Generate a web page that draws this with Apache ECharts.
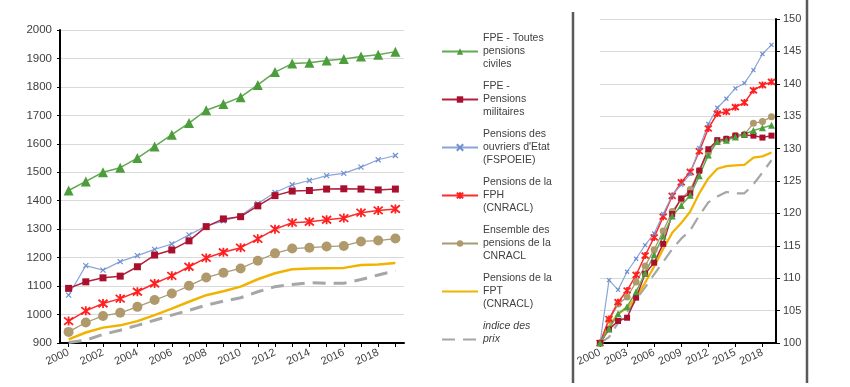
<!DOCTYPE html>
<html><head><meta charset="utf-8">
<script src="https://cdn.jsdelivr.net/npm/echarts@6/dist/echarts.min.js"></script>
<style>html,body{margin:0;padding:0;background:#fff}#c{width:850px;height:387px}</style>
</head><body><div id="c"></div>
<script>
// ---- data ----
const years = ['2000','2001','2002','2003','2004','2005','2006','2007','2008','2009','2010','2011','2012','2013','2014','2015','2016','2017','2018','2019'];
// left panel: montants (euros)
const fpeCiviles   = [1436,1468,1500,1516,1550,1591,1632,1673,1718,1740,1764,1807,1852,1882,1885,1893,1898,1907,1913,1924];
const fpeMilitaires= [1092,1115,1129,1135,1168,1209,1227,1259,1309,1336,1344,1382,1418,1434,1436,1441,1442,1441,1438,1441];
const fspoeie      = [1068,1172,1156,1186,1207,1229,1248,1280,1311,1329,1347,1390,1429,1456,1471,1488,1496,1518,1544,1559];
const fph          = [977,1013,1039,1056,1080,1109,1136,1168,1199,1219,1235,1266,1300,1323,1326,1333,1339,1358,1366,1371];
const cnracl       = [939,972,995,1006,1027,1051,1074,1101,1130,1147,1162,1189,1215,1232,1235,1239,1241,1257,1260,1267];
const fpt          = [913,937,954,962,977,998,1021,1045,1068,1082,1098,1124,1145,1159,1162,1163,1164,1174,1176,1181];
const prix         = [902,910,930,945,962,980,998,1015,1033,1047,1059,1080,1098,1106,1112,1110,1110,1123,1139,1154];
// right panel: base 100 en 2000
const idxCiviles   = [100,102.2,104.5,105.6,107.9,110.8,113.6,116.5,119.6,121.2,122.8,125.8,129.0,131.1,131.3,131.8,132.2,132.8,133.2,133.6];
const idxMilitaires= [100,102.1,103.4,103.9,107.0,110.7,112.4,115.3,119.9,122.3,123.1,126.6,129.9,131.3,131.5,132.0,132.1,132.0,131.7,132.0];
const idxFspoeie   = [100,109.7,108.2,111.0,113.0,115.1,116.9,119.9,122.8,124.4,126.1,130.1,133.8,136.3,137.7,139.3,140.1,142.1,144.6,146.0];
const idxFph       = [100,103.7,106.3,108.1,110.5,113.5,116.3,119.5,122.7,124.8,126.4,129.6,133.1,135.4,135.7,136.4,137.1,139.0,139.8,140.3];
const idxCnracl    = [100,103.5,106.0,107.1,109.4,111.9,114.4,117.3,120.3,122.2,123.7,126.6,129.4,131.2,131.5,132.0,132.2,133.9,134.2,134.9];
const idxFpt       = [100,102.6,104.5,105.4,107.0,109.3,111.8,114.5,117.0,118.5,120.3,123.1,125.4,126.9,127.3,127.4,127.5,128.6,128.8,129.4];
const idxPrix      = [100,100.9,103.1,104.8,106.7,108.6,110.6,112.5,114.5,116.1,117.4,119.7,121.7,122.6,123.3,123.1,123.1,124.5,126.3,128.2];
const leftTicks = { min: 900, max: 2000, interval: 100 };
const rightTicks = { min: 100, max: 150, interval: 5 };

const names = {
  civ: 'FPE - Toutes\npensions\nciviles',
  mil: 'FPE -\nPensions\nmilitaires',
  ouv: "Pensions des\nouvriers d'Etat\n(FSPOEIE)",
  fph: 'Pensions de la\nFPH\n(CNRACL)',
  cnr: 'Ensemble des\npensions de la\nCNRACL',
  fpt: 'Pensions de la\nFPT\n(CNRACL)',
  prx: 'indice des\nprix'
};

const ASTER = 'path://M0,0L10,10M10,0L0,10M5,-1L5,11';
const XMARK = 'path://M0,0L10,10M10,0L0,10';

const styles = {
  civ: { color: '#4c9e3c', line: '#63a852', w: 1.5, symbol: 'triangle', s: 10, s2: 7 },
  mil: { color: '#a8102e', line: '#b3203e', w: 1.5, symbol: 'rect', s: 7, s2: 6 },
  ouv: { color: '#6f8fcf', line: '#8aa5da', w: 1.2, symbol: XMARK, s: 5, s2: 4, stroke: 1.2 },
  fph: { color: '#ff1f1f', line: '#ff2a2a', w: 1.5, symbol: ASTER, s: 9, s2: 7, stroke: 1.8 },
  cnr: { color: '#b09a6c', line: '#a89a78', w: 1.3, symbol: 'circle', s: 10, s2: 7 },
  fpt: { color: '#f0b400', line: '#f0b400', w: 2.5, symbol: 'none' },
  prx: { color: '#a6a6a6', line: '#a6a6a6', w: 3, symbol: 'none', dash: [13, 8] }
};

function mk(key, data, right) {
  const st = styles[key];
  return {
    name: names[key],
    type: 'line',
    data: right ? years.map((y, i) => [+y, data[i]]) : data,
    xAxisIndex: right ? 1 : 0,
    yAxisIndex: right ? 1 : 0,
    symbol: st.symbol,
    symbolSize: right ? st.s2 : st.s,
    showSymbol: st.symbol !== 'none',
    smooth: false,
    animation: false,
    lineStyle: { color: st.line, width: right ? Math.min(st.w, 2.2) : st.w, type: st.dash ? st.dash : 'solid', cap: 'butt' },
    itemStyle: { color: st.color, borderColor: st.color, borderWidth: st.stroke || 0 },
    emphasis: { disabled: true }
  };
}

const keys = ['civ', 'mil', 'ouv', 'fph', 'cnr', 'fpt', 'prx'];
const leftData = { civ: fpeCiviles, mil: fpeMilitaires, ouv: fspoeie, fph: fph, cnr: cnracl, fpt: fpt, prx: prix };
const rightData = { civ: idxCiviles, mil: idxMilitaires, ouv: idxFspoeie, fph: idxFph, cnr: idxCnracl, fpt: idxFpt, prx: idxPrix };

const series = [];
keys.slice().reverse().forEach(k => series.push(mk(k, leftData[k], false)));
keys.slice().reverse().forEach(k => series.push(mk(k, rightData[k], true)));

const FONT = 'Liberation Sans, Arial, sans-serif';
const chart = echarts.init(document.getElementById('c'), null, { renderer: 'canvas' });
chart.setOption({
  backgroundColor: '#ffffff',
  animation: false,
  textStyle: { fontFamily: FONT },
  legend: {
    orient: 'vertical',
    left: 441,
    top: 19,
    padding: 0,
    itemWidth: 36,
    itemHeight: 8,
    itemGap: -17,
    data: keys.map(k => {
      const d = { name: names[k] };
      if (k === 'prx') d.textStyle = { fontStyle: 'italic' };
      if (styles[k].symbol === 'none') d.itemStyle = { opacity: 0 };
      return d;
    }),
    formatter: n => n.split('\n').length < 3 ? n + '\n ' : n,
    textStyle: { fontSize: 10.5, lineHeight: 13, color: '#404040', fontFamily: FONT, padding: [26, 0, 0, 0] },
    selectedMode: false
  },
  grid: [
    { left: 60, top: 30, width: 344, height: 313, containLabel: false },
    { left: 600, top: 19, width: 176, height: 324, containLabel: false }
  ],
  xAxis: [
    {
      gridIndex: 0, type: 'category', data: years, boundaryGap: true,
      axisLine: { lineStyle: { color: '#000', width: 2 } },
      axisTick: { show: true, alignWithLabel: true, interval: 0, length: 4, lineStyle: { color: '#000' } },
      axisLabel: { interval: 1, rotate: 25, fontSize: 11, color: '#404040', margin: 9, fontFamily: FONT },
      splitLine: { show: false }
    },
    {
      gridIndex: 1, type: 'value', min: 2000, max: 2019.5, interval: 3,
      axisLine: { onZero: false, lineStyle: { color: '#000', width: 2 } },
      axisTick: { show: true, length: 4, lineStyle: { color: '#000' } },
      axisLabel: { rotate: 25, fontSize: 11, color: '#404040', margin: 9, fontFamily: FONT, showMaxLabel: false,
        formatter: v => ((v - 2000) % 3 === 0 ? String(v) : '') },
      splitLine: { show: false }
    }
  ],
  yAxis: [
    {
      gridIndex: 0, type: 'value', min: leftTicks.min, max: leftTicks.max, interval: leftTicks.interval,
      axisLine: { show: true, lineStyle: { color: '#000', width: 2 } },
      axisTick: { show: true, length: 3, lineStyle: { color: '#000' } },
      axisLabel: { fontSize: 11.5, color: '#404040', margin: 8, fontFamily: FONT, formatter: v => String(v) },
      splitLine: { show: true, lineStyle: { color: '#d9d9d9', width: 1 } }
    },
    {
      gridIndex: 1, type: 'value', position: 'right', min: rightTicks.min, max: rightTicks.max, interval: rightTicks.interval,
      axisLine: { show: true, lineStyle: { color: '#000', width: 2 } },
      axisTick: { show: true, length: 4, lineStyle: { color: '#000' } },
      axisLabel: { fontSize: 11, color: '#404040', margin: 7, fontFamily: FONT, formatter: v => String(v) },
      splitLine: { show: true, lineStyle: { color: '#d9d9d9', width: 1 } }
    }
  ],
  graphic: [
    { type: 'line', shape: { x1: 573, y1: 12, x2: 573, y2: 383 }, style: { stroke: '#5a5a5a', lineWidth: 2.5 } },
    { type: 'line', shape: { x1: 807, y1: 0, x2: 807, y2: 383 }, style: { stroke: '#5a5a5a', lineWidth: 2.5 } }
  ],
  series: series
});
</script></body></html>
